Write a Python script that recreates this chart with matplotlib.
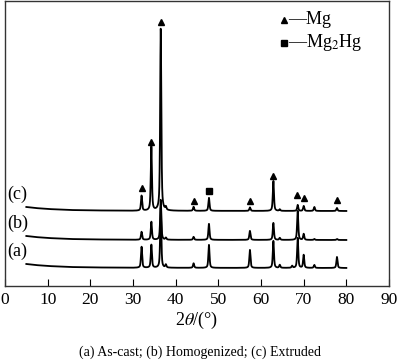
import numpy as np
import matplotlib
matplotlib.use('Agg')
import matplotlib.pyplot as plt

plt.rcParams['font.family'] = ['Liberation Serif', 'DejaVu Serif']
plt.rcParams['mathtext.fontset'] = 'stix'

# peak positions (2theta, deg)
peak_pos = [32.0, 34.3, 36.5, 37.7, 44.2, 47.8, 57.4, 62.9, 64.4, 67.3, 68.6, 70.0, 72.5, 77.8]
# peak heights for each sample (arbitrary units)
height_a = [21, 23, 60, 3, 4.5, 23, 18, 27, 3, 2, 30, 13, 3, 11]
height_b = [8, 18, 40, 2, 3, 16, 9, 17, 2, 0, 29, 6, 1, 1]
height_c = [15, 64, 182, 3, 4, 13, 3.5, 30, 1.5, 0, 6, 5, 4, 3]
offsets = [18, 46, 75]
labels = ['(a)', '(b)', '(c)']
# background near low angle
bg_x = [5, 7, 10, 15, 20, 30, 80]
bg_y = [4.0, 3.0, 2.0, 1.0, 0.6, 0.2, 0.0]

# phase markers on curve (c)
mg_marks = [32.0, 34.3, 36.5, 44.2, 57.4, 62.9, 68.5, 70.0, 77.8]
mg_mark_y = [98, 144, 264, 85, 85, 110, 91, 88, 86]
hg_marks = [47.8]
hg_mark_y = [95]

x = np.linspace(5, 80, 8000)


def pattern(heights, offset):
  y = np.interp(x, bg_x, bg_y) + offset
  for p, h in zip(peak_pos, heights):
    w = 0.16
    y += h * (0.6 / (1 + ((x - p) / w) ** 2) + 0.4 * np.exp(-np.log(2) * ((x - p) / w) ** 2))
  return y


fig = plt.figure(figsize=(4.0, 3.64), dpi=100)
ax = fig.add_axes([0.0125, 0.2143, 0.96, 0.783])

for hs, off, lab in zip([height_a, height_b, height_c], offsets, labels):
  ax.plot(x, pattern(hs, off), color='black', lw=1.3)
  ax.text(0.6, off + 8, lab, fontsize=13, ha='left', va='bottom')

ax.plot(mg_marks, mg_mark_y, ls='none', marker='^', color='black', ms=5)
ax.plot(hg_marks, hg_mark_y, ls='none', marker='s', color='black', ms=4.5)

ax.set_xlim(0, 90)
ax.set_ylim(0, 285)
ax.set_xticks(range(0, 91, 10))
ax.set_yticks([])
ax.tick_params(axis='x', direction='in', length=5, labelsize=12.5, pad=4)
for s in ax.spines.values():
  s.set_color('#333333')
  s.set_linewidth(1.0)
ax.set_xlabel(r'2$\theta$/(°)', fontsize=13, labelpad=2)

# legend drawn by hand
ax.plot([65.3], [266], ls='none', marker='^', color='black', ms=4.5, clip_on=False)
ax.text(66.3, 266, '—Mg', fontsize=13, va='center', ha='left')
ax.plot([65.3], [243], ls='none', marker='s', color='black', ms=4, clip_on=False)
ax.text(66.3, 243, '—Mg$_2$Hg', fontsize=13, va='center', ha='left')

fig.text(0.5, 0.033, '(a) As-cast; (b) Homogenized; (c) Extruded', ha='center', va='center', fontsize=10)

fig.savefig('out.png', dpi=100)
